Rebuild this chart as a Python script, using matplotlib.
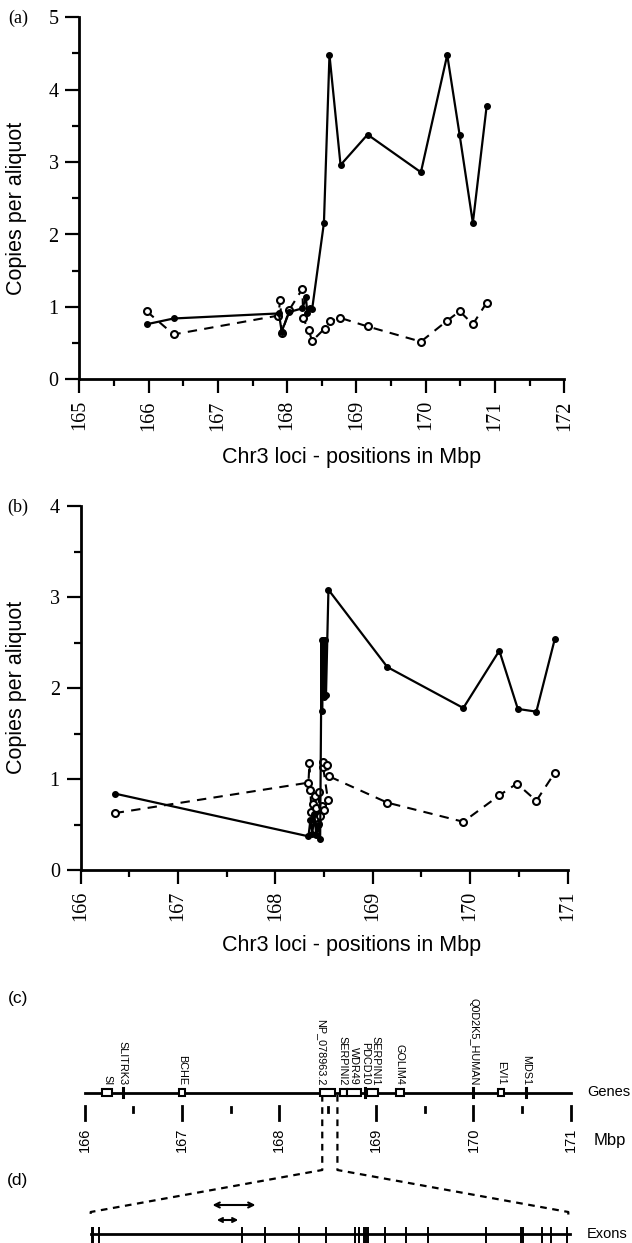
import numpy as np
import matplotlib.pyplot as plt
from matplotlib.ticker import MultipleLocator
from matplotlib.patches import Rectangle

plt.rcParams['font.family'] = ['Liberation Sans', 'DejaVu Sans']

# ---- panel (a): copies per aliquot along chr3 ----
a_solid_x = [165.97, 166.36, 167.88, 167.92, 168.03, 168.22, 168.27, 168.29, 168.33, 168.36,
             168.53, 168.61, 168.77, 169.16, 169.93, 170.31, 170.49, 170.68, 170.88]
a_solid_y = [0.76, 0.84, 0.91, 0.66, 0.93, 0.98, 1.13, 0.92, 0.98, 0.97,
             2.16, 4.48, 2.96, 3.38, 2.86, 4.48, 3.37, 2.16, 3.78]
a_open_x = [165.97, 166.36, 167.87, 167.90, 167.92, 168.03, 168.22, 168.23, 168.31, 168.36,
            168.54, 168.62, 168.76, 169.16, 169.93, 170.31, 170.49, 170.68, 170.88]
a_open_y = [0.94, 0.62, 0.88, 1.10, 0.64, 0.96, 1.25, 0.84, 0.68, 0.53,
            0.70, 0.80, 0.85, 0.73, 0.52, 0.81, 0.94, 0.76, 1.06]

# ---- panel (b) ----
b_solid_x = [166.35, 168.34, 168.36, 168.38, 168.40, 168.42, 168.44, 168.46, 168.475, 168.48,
             168.49, 168.50, 168.51, 168.52, 168.545, 169.15, 169.93, 170.30, 170.49, 170.68, 170.87]
b_solid_y = [0.84, 0.37, 0.55, 0.40, 0.62, 0.38, 0.50, 0.34, 2.53, 1.75,
             2.53, 1.90, 2.53, 1.92, 3.08, 2.23, 1.78, 2.41, 1.77, 1.74, 2.54]
b_open_x = [166.35, 168.34, 168.35, 168.36, 168.37, 168.39, 168.41, 168.41, 168.42, 168.44,
            168.45, 168.46, 168.48, 168.50, 168.54, 168.49, 168.49, 168.53, 168.55,
            169.15, 169.93, 170.30, 170.48, 170.68, 170.87]
b_open_y = [0.625, 0.96, 1.18, 0.88, 0.64, 0.73, 0.81, 0.57, 0.68, 0.51,
            0.86, 0.59, 0.70, 0.66, 0.77, 1.135, 1.19, 1.15, 1.03,
            0.74, 0.53, 0.82, 0.95, 0.76, 1.07]

# ---- panel (c): genes (Mbp) ----
gene_names = ['SI', 'SLITRK3', 'BCHE', 'NP_078963.2', 'SERPINI2', 'WDR49', 'PDCD10',
              'SERPINI1', 'GOLIM4', 'Q0D2K5_HUMAN', 'EVI1', 'MDS1']
gene_start = [166.18, 166.39, 166.97, 168.42, 168.63, 168.70, 168.88, 168.90, 169.20, 170.00, 170.25, 170.54]
gene_end = [166.28, 166.39, 167.03, 168.57, 168.70, 168.84, 168.88, 169.02, 169.28, 170.00, 170.31, 170.54]
mbp_ticks = [166, 167, 168, 169, 170, 171]

# ---- panel (d): exons of NP_078963.2, as fraction of the expanded region ----
zoom_gene = (168.444, 168.600)
exon_frac = [0.002, 0.005, 0.018, 0.316, 0.365, 0.437, 0.493, 0.553, 0.562, 0.572, 0.577,
             0.581, 0.616, 0.660, 0.706, 0.828, 0.901, 0.905, 0.944, 0.963, 0.997]
arrow_long = (0.255, 0.345)
arrow_short = (0.264, 0.309)

W, H = 632, 1243
fig = plt.figure(figsize=(W / 100, H / 100), dpi=100)


def px(x, y):
    return x / W, 1 - y / H


def style_axes(ax, xlo, xhi, yhi):
    for s in ['top', 'right']:
        ax.spines[s].set_visible(False)
    for s in ['left', 'bottom']:
        ax.spines[s].set_linewidth(2)
    ax.set_xlim(xlo, xhi)
    ax.set_ylim(0, yhi)
    ax.set_xticks(np.arange(xlo, xhi + 1))
    ax.set_yticks(np.arange(0, yhi + 1))
    ax.xaxis.set_minor_locator(MultipleLocator(0.5))
    ax.yaxis.set_minor_locator(MultipleLocator(0.5))
    ax.tick_params(which='major', direction='out', length=10, width=1.6, labelsize=14.5, pad=5)
    ax.tick_params(which='minor', direction='out', length=5, width=1.6)
    for lab in ax.get_xticklabels() + ax.get_yticklabels():
        lab.set_fontfamily('Liberation Serif')
    for lab in ax.get_xticklabels():
        lab.set_rotation(90)
    ax.patch.set_alpha(0)


def draw_series(ax, sx, sy, ox, oy):
    ax.plot(ox, oy, color='black', lw=1.5, ls=(0, (4.5, 3.5)), marker='o', ms=5,
            mfc='white', mec='black', mew=1.5, clip_on=False)
    ax.plot(sx, sy, color='black', lw=1.6, marker='o', ms=4, mfc='black', mec='black', clip_on=False)


# panel (a)
ax_a = fig.add_axes([79.4 / W, 1 - 379.3 / H, (564.3 - 79.4) / W, (379.3 - 17.3) / H])
draw_series(ax_a, a_solid_x, a_solid_y, a_open_x, a_open_y)
style_axes(ax_a, 165, 172, 5)

# panel (b)
ax_b = fig.add_axes([80.6 / W, 1 - 870 / H, (567.5 - 80.6) / W, (870 - 506) / H])
draw_series(ax_b, b_solid_x, b_solid_y, b_open_x, b_open_y)
style_axes(ax_b, 166, 171, 4)

lab_kw = dict(fontsize=15.5, ha='center', va='center')
fig.text(*px(17, 208), 'Copies per aliquot', rotation=90, **lab_kw)
fig.text(*px(352, 457), 'Chr3 loci - positions in Mbp', **lab_kw)
fig.text(*px(17, 687), 'Copies per aliquot', rotation=90, **lab_kw)
fig.text(*px(352, 946), 'Chr3 loci - positions in Mbp', **lab_kw)
fig.text(*px(18, 18), '(a)', fontsize=13, family='Liberation Serif', ha='center', va='center')
fig.text(*px(18, 507), '(b)', fontsize=13, family='Liberation Serif', ha='center', va='center')
fig.text(*px(18, 998), '(c)', fontsize=12.5, ha='center', va='center')
fig.text(*px(18, 1180), '(d)', fontsize=12.5, ha='center', va='center')

# panels (c) and (d): overlay in Mbp horizontally, pixels vertically
scale = (570.7 - 84.7) / 5
x_left = 166 - 84.7 / scale
ax_c = fig.add_axes([0, 0, 1, 1])
ax_c.set_xlim(x_left, x_left + W / scale)
ax_c.set_ylim(H, 0)
ax_c.axis('off')
ax_c.patch.set_alpha(0)

gy = 1092.5
ax_c.plot([mbp_ticks[0], mbp_ticks[-1]], [gy, gy], color='black', lw=2, zorder=1)
for name, s, e in zip(gene_names, gene_start, gene_end):
    if e > s:
        ax_c.add_patch(Rectangle((s, gy - 3.5), e - s, 7, facecolor='white', edgecolor='black', lw=1.5, zorder=2))
    else:
        ax_c.plot([s, s], [gy - 4.5, gy + 4.5], color='black', lw=2.2, zorder=2)
label_nudge = {'NP_078963.2': -0.06, 'SERPINI2': -0.015, 'SERPINI1': 0.03}
for name, s, e in zip(gene_names, gene_start, gene_end):
    xc = (s + e) / 2 + label_nudge.get(name, 0)
    ax_c.text(xc, 1085, name, rotation=-90, ha='center', va='bottom', fontsize=7.8)
ax_c.text(x_left + 587 / scale, gy, 'Genes', fontsize=10.5, ha='left', va='center')

for t in mbp_ticks:
    ax_c.plot([t, t], [1106, 1120], color='black', lw=2)
    ax_c.text(t, 1140, str(t), rotation=90, ha='center', va='center', fontsize=10.5)
for t in np.arange(166.5, 171, 1.0):
    ax_c.plot([t, t], [1107, 1112], color='black', lw=2)
ax_c.text(x_left + 594 / scale, 1140, 'Mbp', fontsize=12, ha='left', va='center')

# expansion of the NP_078963.2 gene
z0 = x_left + 90.7 / scale
z1 = x_left + 568.3 / scale
dash = (0, (3, 2.5))
ax_c.plot([zoom_gene[0], zoom_gene[0], z0, z0], [1095, 1170, 1212, 1219], color='black', lw=1.6, ls=dash)
ax_c.plot([zoom_gene[1], zoom_gene[1], z1, z1], [1095, 1170, 1212, 1219], color='black', lw=1.6, ls=dash)

ey = 1234
ax_c.plot([z0, z1 + 0.02], [ey, ey], color='black', lw=2)
ex = [z0 + f * (z1 - z0) for f in exon_frac]
ax_c.vlines(ex, 1227, 1245, color='black', lw=1.4)
ax_c.text(x_left + 587 / scale, ey, 'Exons', fontsize=10.5, ha='left', va='center')

for (f0, f1), yy, ms in [(arrow_long, 1205, 9), (arrow_short, 1220, 7)]:
    ax_c.annotate('', xy=(z0 + f1 * (z1 - z0), yy), xytext=(z0 + f0 * (z1 - z0), yy),
                  arrowprops=dict(arrowstyle='<->', lw=1.5, color='black', mutation_scale=ms,
                                  shrinkA=0, shrinkB=0))

fig.savefig('out.png', dpi=100)
